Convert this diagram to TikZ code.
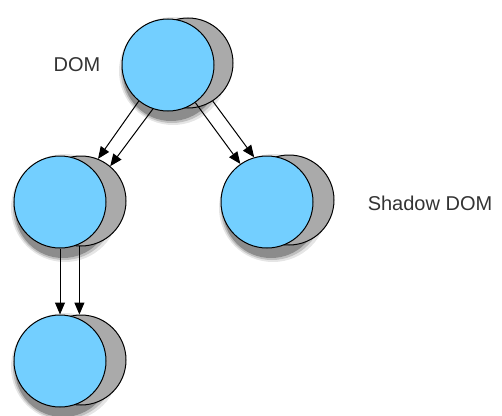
\documentclass[tikz,border=0pt]{standalone}
\usepackage{fontspec}
\setmainfont{Liberation Sans}
\usepackage{tikz}
\usetikzlibrary{arrows.meta}
\usetikzlibrary{positioning}
\definecolor{bubble}{RGB}{115,207,255}
\definecolor{moon}{RGB}{170,170,170}
\tikzset{
  back/.style={draw, circle, line width=1pt, fill=moon, minimum size=90pt, inner sep=0pt},
  front/.style={draw, circle, line width=1pt, fill=bubble, minimum size=92pt, inner sep=0pt},
  halo/.style 2 args={circle, fill=black!#1, minimum size=#2, inner sep=0pt},
  arr/.style={-{Triangle[length=12pt,width=10pt]}, line width=1pt},
  lbl/.style={font=\fontsize{20}{24}\selectfont, text=black!80}
}

\begin{document}
\begin{tikzpicture}[x=1pt,y=-1pt]
            \useasboundingbox (0,0) rectangle (502,415);
            % soft shadows
            \draw (173,71) node[halo={10}{108pt}]       (domh) {};
            \draw (172,72) node[halo={25}{102pt}]       (domm) {};
            \draw (171,73) node[halo={45}{96pt}]        (domu) {};
            \draw (65,208) node[halo={10}{108pt}]       (childh) {};
            \draw (64,209) node[halo={25}{102pt}]       (childm) {};
            \draw (63,210) node[halo={45}{96pt}]        (childu) {};
            \draw (273,208) node[halo={10}{108pt}]      (shadowh) {};
            \draw (272,209) node[halo={25}{102pt}]      (shadowm) {};
            \draw (271,210) node[halo={45}{96pt}]       (shadowu) {};
            \draw (65,367) node[halo={10}{108pt}]       (leafh) {};
            \draw (64,368) node[halo={25}{102pt}]       (leafm) {};
            \draw (63,369) node[halo={45}{96pt}]        (leafu) {};
            % bubbles
            \draw (188,63) node[back]                   (domb) {};
            \draw (168,65) node[front]                  (dom) {};
            \draw (81,201) node[back]                   (childb) {};
            \draw (60,202) node[front]                  (child) {};
            \draw (289,200) node[back]                  (shadowb) {};
            \draw (267,202) node[front]                 (shadow) {};
            \draw (81,360) node[back]                   (leafb) {};
            \draw (60,361) node[front]                  (leaf) {};
            \draw (77,65) node[lbl]                     (domlbl) {DOM};
            \draw (430,203) node[lbl]                   (shadowlbl) {Shadow DOM};
            \draw[arr] (dom.231) -- (childb.68);
            \draw[arr] (dom.251) -- (childb.50);
            \draw[arr] (dom.306) -- (shadow.125);
            \draw[arr] (domb.303) -- (shadow.106);
            \draw[arr] (child.270) -- (leaf.90);
            \draw[arr] (childb.268) -- (leafb.92);
  
            \end{tikzpicture}
\end{document}
